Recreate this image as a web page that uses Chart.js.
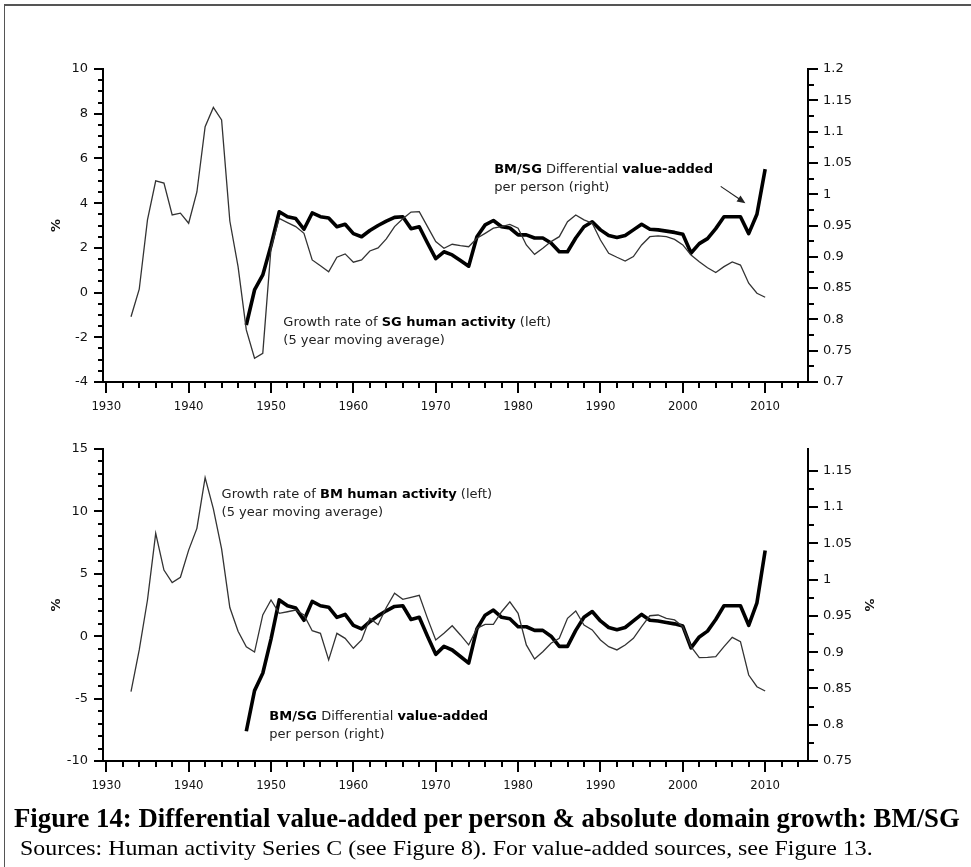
<!DOCTYPE html>
<html>
<head>
<meta charset="utf-8">
<title>Figure 14</title>
<script src="https://cdn.jsdelivr.net/npm/chart.js@4.4.0/dist/chart.umd.min.js"></script>
<style>
  body { margin: 0; background: #fff; width: 971px; height: 867px; overflow: hidden; position: relative; }
  #frame { position: absolute; left: 4px; top: 4px; width: 1000px; height: 900px; border-top: 2px solid #555; border-left: 1px solid #555; }
  canvas { position: absolute; left: 0; }
  #topChart { top: 0; }
  #bottomChart { top: 425px; }
  .caption { position: absolute; white-space: nowrap; line-height: 1; color: #000; font-family: "Liberation Serif", "Times New Roman", serif; transform-origin: 0 50%; }
  #capTitle { left: 14px; top: 804px; font-size: 28px; font-weight: bold; }
  #capSource { left: 20px; top: 837px; font-size: 22px; }
</style>
</head>
<body>
<div id="frame"></div>
<canvas id="topChart" width="971" height="425"></canvas>
<canvas id="bottomChart" width="971" height="380"></canvas>
<div class="caption" id="capTitle">Figure 14: Differential value-added per person &amp; absolute domain growth: BM/SG</div>
<div class="caption" id="capSource">Sources: Human activity Series C (see Figure 8). For value-added sources, see Figure 13.</div>

<script>
// Years covered by the human activity series
const activityYears = [
    1933, 1934, 1935, 1936, 1937, 1938, 1939, 1940, 1941, 1942, 1943, 1944, 1945, 1946, 1947, 1948, 1949,
    1950, 1951, 1952, 1953, 1954, 1955, 1956, 1957, 1958, 1959, 1960, 1961, 1962, 1963, 1964, 1965, 1966,
    1967, 1968, 1969, 1970, 1971, 1972, 1973, 1974, 1975, 1976, 1977, 1978, 1979, 1980, 1981, 1982, 1983,
    1984, 1985, 1986, 1987, 1988, 1989, 1990, 1991, 1992, 1993, 1994, 1995, 1996, 1997, 1998, 1999, 2000,
    2001, 2002, 2003, 2004, 2005, 2006, 2007, 2008, 2009, 2010
];

// Growth rate of SG human activity, 5 year moving average (%)
const sgActivity = [
    -1.08, 0.15, 3.25, 5.0, 4.9, 3.47, 3.55, 3.1, 4.5, 7.42, 8.28, 7.72, 3.2, 1.16, -1.67, -2.94, -2.72,
    2.0, 3.32, 3.13, 2.95, 2.65, 1.46, 1.2, 0.93, 1.58, 1.73, 1.36, 1.46, 1.86, 2.0, 2.4, 2.95, 3.3,
    3.6, 3.62, 2.95, 2.28, 1.98, 2.16, 2.1, 2.05, 2.43, 2.65, 2.88, 2.95, 3.05, 2.88, 2.13, 1.71, 1.98,
    2.28, 2.5, 3.17, 3.47, 3.25, 3.1, 2.35, 1.76, 1.58, 1.41, 1.61, 2.13, 2.5, 2.54, 2.5, 2.38, 2.13,
    1.68, 1.38, 1.11, 0.9, 1.16, 1.37, 1.23, 0.42, -0.03, -0.21
];

// Growth rate of BM human activity, 5 year moving average (%)
const bmActivity = [
    -4.44, -1.1, 2.9, 8.24, 5.3, 4.29, 4.72, 6.9, 8.64, 12.7, 10.2, 7.0, 2.3, 0.4, -0.84, -1.27, 1.7,
    2.9, 1.83, 1.96, 2.1, 1.7, 0.44, 0.23, -1.9, 0.23, -0.17, -0.97, -0.3, 1.43, 0.92, 2.3, 3.44, 2.95,
    3.12, 3.28, 1.43, -0.3, 0.23, 0.84, 0.1, -0.7, 0.63, 0.95, 0.95, 1.96, 2.76, 1.83, -0.7, -1.83, -1.24,
    -0.57, -0.17, 1.43, 2.02, 0.9, 0.5, -0.3, -0.84, -1.1, -0.7, -0.17, 0.76, 1.64, 1.7, 1.43, 1.3, 0.76,
    -0.84, -1.72, -1.7, -1.64, -0.84, -0.09, -0.44, -3.11, -4.05, -4.39
];

// Years covered by the value-added ratio
const ratioYears = [
    1947, 1948, 1949, 1950, 1951, 1952, 1953, 1954, 1955, 1956, 1957, 1958, 1959, 1960, 1961, 1962,
    1963, 1964, 1965, 1966, 1967, 1968, 1969, 1970, 1971, 1972, 1973, 1974, 1975, 1976, 1977, 1978,
    1979, 1980, 1981, 1982, 1983, 1984, 1985, 1986, 1987, 1988, 1989, 1990, 1991, 1992, 1993, 1994,
    1995, 1996, 1997, 1998, 1999, 2000, 2001, 2002, 2003, 2004, 2005, 2006, 2007, 2008, 2009, 2010
];

// BM/SG differential value-added per person (right axis)
const diffValueAdded = [
    0.791, 0.847, 0.871, 0.918, 0.972, 0.964, 0.961, 0.944, 0.970, 0.964, 0.962, 0.948, 0.952, 0.937, 0.932, 0.942,
    0.950, 0.957, 0.963, 0.964, 0.945, 0.948, 0.922, 0.897, 0.908, 0.903, 0.894, 0.885, 0.932, 0.951, 0.958, 0.948,
    0.946, 0.935, 0.935, 0.930, 0.930, 0.922, 0.908, 0.908, 0.930, 0.948, 0.956, 0.943, 0.934, 0.931, 0.934, 0.943,
    0.952, 0.944, 0.943, 0.941, 0.939, 0.936, 0.906, 0.921, 0.929, 0.945, 0.964, 0.964, 0.964, 0.937, 0.968, 1.040
];

const xTickLabels = [1930, 1940, 1950, 1960, 1970, 1980, 1990, 2000, 2010];

const toPoints = (xs, ys) => xs.map((x, i) => ({ x: x, y: ys[i] }));
const isStep = (v, step) => Math.abs(v / step - Math.round(v / step)) < 1e-6;

const tickFont = { family: 'DejaVu Sans', size: 13 };
const yearFont = { family: "'DejaVu Sans Condensed', 'DejaVu Sans'", size: 13 };
const axisBorder = { display: true, color: '#000', width: 2 };
const hiddenTicks = 'rgba(0,0,0,0)';

// axis ticks: long marks on labelled values, short ones in between
const tickMarks = {
    id: 'tickMarks',
    afterDraw(chart, args, opts) {
        const ctx = chart.ctx;
        ctx.save();
        ctx.strokeStyle = '#000';
        ctx.lineWidth = 2;
        Object.keys(opts.axes).forEach(id => {
            const scale = chart.scales[id];
            const cfg = opts.axes[id];
            scale.ticks.forEach(t => {
                if (!isStep(t.value, cfg.minor)) return;
                const len = isStep(t.value, cfg.major) ? cfg.long : cfg.short;
                const p = Math.round(scale.getPixelForValue(t.value));
                ctx.beginPath();
                if (scale.position === 'bottom') {
                    ctx.moveTo(p, scale.top);
                    ctx.lineTo(p, scale.top + len);
                } else if (scale.position === 'left') {
                    ctx.moveTo(scale.right, p);
                    ctx.lineTo(scale.right - len, p);
                } else {
                    ctx.moveTo(scale.left, p);
                    ctx.lineTo(scale.left + len, p);
                }
                ctx.stroke();
            });
        });
        ctx.restore();
    }
};

// text notes inside the plot, with bold runs, plus an optional arrow
const notes = {
    id: 'notes',
    afterDatasetsDraw(chart, args, opts) {
        const ctx = chart.ctx;
        const xs = chart.scales.x;
        ctx.save();
        ctx.textBaseline = 'middle';
        ctx.textAlign = 'left';
        opts.items.forEach(item => {
            const ys = chart.scales[item.axis];
            const x0 = xs.getPixelForValue(item.x);
            let y = ys.getPixelForValue(item.y);
            item.lines.forEach(line => {
                let x = x0;
                line.forEach(([text, bold]) => {
                    ctx.font = (bold ? 'bold ' : '') + '13px "DejaVu Sans"';
                    ctx.fillStyle = bold ? '#000' : '#222';
                    ctx.fillText(text, x, y);
                    x += ctx.measureText(text).width;
                });
                y += 18;
            });
        });
        if (opts.arrow) {
            const a = opts.arrow;
            const ys = chart.scales[a.axis];
            const x1 = xs.getPixelForValue(a.from[0]), y1 = ys.getPixelForValue(a.from[1]);
            const x2 = xs.getPixelForValue(a.to[0]), y2 = ys.getPixelForValue(a.to[1]);
            const ang = Math.atan2(y2 - y1, x2 - x1);
            ctx.strokeStyle = '#222';
            ctx.fillStyle = '#222';
            ctx.lineWidth = 1.2;
            ctx.beginPath();
            ctx.moveTo(x1, y1);
            ctx.lineTo(x2 - 6 * Math.cos(ang), y2 - 6 * Math.sin(ang));
            ctx.stroke();
            ctx.beginPath();
            ctx.moveTo(x2, y2);
            ctx.lineTo(x2 - 9 * Math.cos(ang - 0.4), y2 - 9 * Math.sin(ang - 0.4));
            ctx.lineTo(x2 - 9 * Math.cos(ang + 0.4), y2 - 9 * Math.sin(ang + 0.4));
            ctx.closePath();
            ctx.fill();
        }
        ctx.restore();
    }
};

function yearAxis(height) {
    return {
        type: 'linear',
        position: 'bottom',
        min: 1929.6,
        max: 2015.2,
        border: axisBorder,
        grid: { drawOnChartArea: false, tickLength: 11, tickColor: hiddenTicks },
        ticks: {
            stepSize: 2, includeBounds: false, autoSkip: false, maxRotation: 0, padding: 6,
            color: '#111', font: yearFont,
            callback: v => xTickLabels.includes(v) ? String(v) : ''
        },
        afterFit: s => { s.height = height; }
    };
}

function valueAxis(position, min, max, minor, major, titlePad) {
    return {
        type: 'linear',
        position: position,
        min: min,
        max: max,
        border: axisBorder,
        grid: { drawOnChartArea: false, tickLength: 9, tickColor: hiddenTicks },
        ticks: {
            stepSize: minor, autoSkip: false, padding: 6, color: '#111', font: tickFont,
            callback: v => isStep(v, major) ? String(Math.round(v * 1000) / 1000) : ''
        },
        title: {
            display: titlePad !== null, text: '%', color: '#111',
            font: { family: 'DejaVu Sans', size: 13, weight: 'bold' },
            padding: { top: titlePad || 0, bottom: 0 }
        },
        afterFit: s => { s.width = position === 'left' ? 103 : 163; }
    };
}

const thinLine = { borderColor: '#333', borderWidth: 1.3, pointRadius: 0, tension: 0, yAxisID: 'yL' };
const thickLine = { borderColor: '#000', borderWidth: 3.6, pointRadius: 0, tension: 0, yAxisID: 'yR', borderJoinStyle: 'round' };

// Top panel: SG human activity against the BM/SG value-added ratio
const topChart = new Chart(document.getElementById('topChart'), {
    type: 'line',
    data: {
        datasets: [
            Object.assign({ label: 'SG human activity', data: toPoints(activityYears, sgActivity) }, thinLine),
            Object.assign({ label: 'BM/SG differential value-added', data: toPoints(ratioYears, diffValueAdded) }, thickLine)
        ]
    },
    options: {
        responsive: false,
        animation: false,
        events: [],
        layout: { padding: { top: 69, left: 0, right: 0, bottom: 0 } },
        scales: {
            x: yearAxis(43),
            yL: valueAxis('left', -4, 10, 0.5, 2, 49),
            yR: valueAxis('right', 0.7, 1.2, 0.025, 0.05, null)
        },
        plugins: {
            legend: { display: false },
            tooltip: { enabled: false },
            tickMarks: {
                axes: {
                    x: { minor: 2, major: 10, short: 6, long: 11 },
                    yL: { minor: 0.5, major: 2, short: 5, long: 9 },
                    yR: { minor: 0.025, major: 0.05, short: 6, long: 10 }
                }
            },
            notes: {
                items: [
                    { axis: 'yL', x: 1951.5, y: -1.35, lines: [
                        [['Growth rate of ', false], ['SG human activity', true], [' (left)', false]],
                        [['(5 year moving average)', false]]
                    ] },
                    { axis: 'yL', x: 1977.1, y: 5.48, lines: [
                        [['BM/SG', true], [' Differential ', false], ['value-added', true]],
                        [['per person (right)', false]]
                    ] }
                ],
                arrow: { axis: 'yL', from: [2004.6, 4.75], to: [2007.6, 4.0] }
            }
        }
    },
    plugins: [tickMarks, notes]
});

// Bottom panel: BM human activity against the same ratio
const bottomChart = new Chart(document.getElementById('bottomChart'), {
    type: 'line',
    data: {
        datasets: [
            Object.assign({ label: 'BM human activity', data: toPoints(activityYears, bmActivity) }, thinLine),
            Object.assign({ label: 'BM/SG differential value-added', data: toPoints(ratioYears, diffValueAdded) }, thickLine)
        ]
    },
    options: {
        responsive: false,
        animation: false,
        events: [],
        layout: { padding: { top: 24, left: 0, right: 0, bottom: 0 } },
        scales: {
            x: yearAxis(44),
            yL: valueAxis('left', -10, 15, 1, 5, 49),
            yR: valueAxis('right', 0.75, 1.18, 0.025, 0.05, 95)
        },
        plugins: {
            legend: { display: false },
            tooltip: { enabled: false },
            tickMarks: {
                axes: {
                    x: { minor: 2, major: 10, short: 6, long: 11 },
                    yL: { minor: 1, major: 5, short: 5, long: 9 },
                    yR: { minor: 0.025, major: 0.05, short: 6, long: 10 }
                }
            },
            notes: {
                items: [
                    { axis: 'yL', x: 1944.0, y: 11.37, lines: [
                        [['Growth rate of ', false], ['BM human activity', true], [' (left)', false]],
                        [['(5 year moving average)', false]]
                    ] },
                    { axis: 'yL', x: 1949.8, y: -6.45, lines: [
                        [['BM/SG', true], [' Differential ', false], ['value-added', true]],
                        [['per person (right)', false]]
                    ] }
                ]
            }
        }
    },
    plugins: [tickMarks, notes]
});

// squeeze the caption lines to the printed width
[['capTitle', 946], ['capSource', 853]].forEach(([id, w]) => {
    const el = document.getElementById(id);
    el.style.transform = 'scaleX(' + (w / el.scrollWidth) + ')';
});
</script>
</body>
</html>
